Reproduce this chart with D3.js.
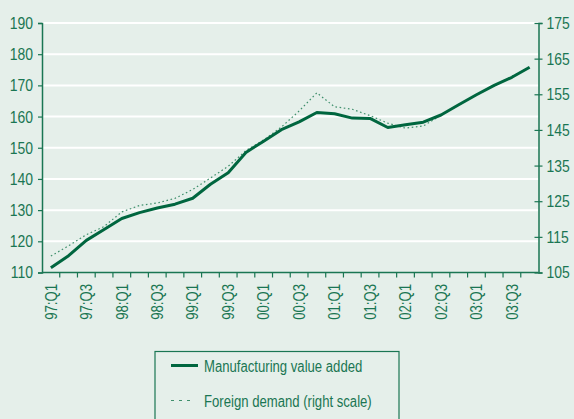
<!DOCTYPE html>
<html>
<head>
<meta charset="utf-8">
<script src="https://cdn.jsdelivr.net/npm/d3@7"></script>
<style>
  html, body { margin: 0; padding: 0; background: #e5efea; }
  svg { display: block; }
  text { font-family: "Liberation Sans", Arial, sans-serif; fill: #1a7653; }
</style>
</head>
<body>
<svg id="chart" width="574" height="419"></svg>
<script>
const quarters = ["97:Q1","97:Q2","97:Q3","97:Q4","98:Q1","98:Q2","98:Q3","98:Q4",
  "99:Q1","99:Q2","99:Q3","99:Q4","00:Q1","00:Q2","00:Q3","00:Q4",
  "01:Q1","01:Q2","01:Q3","01:Q4","02:Q1","02:Q2","02:Q3","02:Q4",
  "03:Q1","03:Q2","03:Q3","03:Q4"];
const manufacturing = [111.5, 115.4, 120.3, 123.8, 127.3, 129.2, 130.7, 131.9,
  133.8, 138.3, 142.0, 148.5, 152.1, 155.8, 158.3, 161.3,
  160.9, 159.5, 159.4, 156.5, 157.4, 158.2, 160.5, 163.8,
  167.0, 170.0, 172.6, 175.8];
const foreignDemand = [109.6, 112.5, 115.6, 117.9, 122.0, 123.8, 124.5, 125.8,
  128.3, 131.5, 134.8, 139.2, 142.2, 145.8, 150.3, 155.4,
  151.5, 150.8, 149.0, 146.9, 145.5, 146.1, 149.1, 152.0,
  154.8, 157.4, 160.0, 162.6];
const leftTicks = [110, 120, 130, 140, 150, 160, 170, 180, 190];
const rightTicks = [105, 115, 125, 135, 145, 155, 165, 175];
const legendLabels = ["Manufacturing value added", "Foreign demand (right scale)"];

const green = "#1a7653";
const lineGreen = "#00663f";
const dotGreen = "#3f8f6c";
const svg = d3.select("#chart");

const pL = 42, pR = 538.5, pT = 23, pB = 272.5;
const x = d3.scaleBand().domain(quarters).range([pL, pR]).padding(0);
const yL = d3.scaleLinear().domain([110, 190]).range([pB, pT]);
const yR = d3.scaleLinear().domain([105, 175]).range([pB, pT]);
const cx = d => x(d) + x.bandwidth() / 2;

// gridlines
svg.append("g").selectAll("line").data(leftTicks.filter(t => t !== 110)).join("line")
  .attr("x1", pL).attr("x2", pR)
  .attr("y1", d => yL(d)).attr("y2", d => yL(d))
  .attr("stroke", "#ffffff").attr("stroke-width", 2);

// left axis
const gL = svg.append("g").attr("transform", `translate(${pL},0)`)
  .call(d3.axisLeft(yL).tickValues(leftTicks).tickSize(4).tickPadding(5).tickFormat(d3.format("d")));
// right axis
const gR = svg.append("g").attr("transform", `translate(${pR},0)`)
  .call(d3.axisRight(yR).tickValues(rightTicks).tickSize(4).tickPadding(4).tickFormat(d3.format("d")));
gR.selectAll(".tick line").attr("x1", -4);
// bottom axis labels
const gB = svg.append("g").attr("transform", `translate(0,${pB})`)
  .call(d3.axisBottom(x).tickValues(quarters.filter(q => /Q[13]$/.test(q))).tickSize(0));
gB.selectAll(".tick text")
  .attr("transform", "rotate(-90)")
  .attr("x", -11.5).attr("y", 0).attr("dy", "0.36em")
  .style("text-anchor", "end");
gB.select(".domain").attr("d", `M${pL},0H${pR}`);
// boundary ticks
gB.append("g").selectAll("line").data(quarters.slice(1)).join("line")
  .attr("x1", d => x(d)).attr("x2", d => x(d)).attr("y1", 0).attr("y2", 5)
  .attr("stroke", green).attr("stroke-width", 1.2);

[gL, gR, gB].forEach(g => {
  g.selectAll(".domain").attr("stroke", green).attr("stroke-width", 1.5);
  g.selectAll(".tick line").attr("stroke", green).attr("stroke-width", 1.2);
  g.selectAll(".tick text").attr("fill", green)
    .style("font-family", '"Liberation Sans", Arial, sans-serif');
});
gL.selectAll(".tick text").style("font-size", "17px");
gR.selectAll(".tick text").style("font-size", "17px");
gB.selectAll(".tick text").style("font-size", "16px");

// lines
const lineL = d3.line().x((d, i) => cx(quarters[i])).y(d => yL(d));
const lineR = d3.line().x((d, i) => cx(quarters[i])).y(d => yR(d));
svg.append("path").datum(foreignDemand).attr("d", lineR)
  .attr("fill", "none").attr("stroke", dotGreen).attr("stroke-width", 1.2)
  .attr("stroke-dasharray", "1.6,2.6");
svg.append("path").datum(manufacturing).attr("d", lineL)
  .attr("fill", "none").attr("stroke", lineGreen).attr("stroke-width", 3)
  .attr("stroke-linejoin", "round");

// legend
const lg = svg.append("g");
lg.append("rect").attr("x", 155).attr("y", 351.5).attr("width", 244).attr("height", 90)
  .attr("fill", "none").attr("stroke", green).attr("stroke-width", 1.2);
lg.append("line").attr("x1", 171).attr("x2", 198).attr("y1", 365.5).attr("y2", 365.5)
  .attr("stroke", lineGreen).attr("stroke-width", 3);
lg.append("line").attr("x1", 171).attr("x2", 195).attr("y1", 400.5).attr("y2", 400.5)
  .attr("stroke", dotGreen).attr("stroke-width", 1.2).attr("stroke-dasharray", "3,5");
lg.selectAll("text.lab").data(legendLabels).join("text").attr("class", "lab")
  .attr("x", 204).attr("y", (d, i) => 371.5 + i * 35)
  .style("font-size", "16px").text(d => d);

// condense all text horizontally (narrow face look)
svg.selectAll("text").each(function () {
  const w = this.getComputedTextLength();
  d3.select(this).attr("textLength", (w * 0.82).toFixed(2)).attr("lengthAdjust", "spacingAndGlyphs");
});
</script>
</body>
</html>
